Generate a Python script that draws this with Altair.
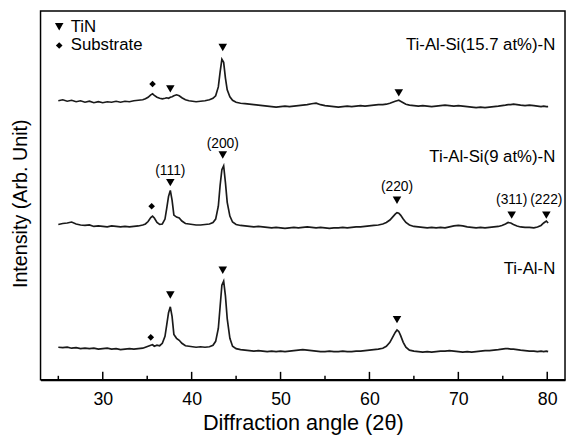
import altair as alt
import pandas as pd

# 2-theta grid (degrees)
x_deg = [25.0, 25.5, 26.0, 26.5, 27.0, 27.5, 28.0, 28.5, 29.0, 29.5, 30.0, 30.5, 31.0, 31.5, 32.0, 32.5, 33.0, 33.5, 34.0, 34.5,
         34.8, 35.1, 35.4, 35.6, 35.8, 36.1, 36.4, 36.7, 37.0, 37.2, 37.4, 37.6, 37.8, 38.0, 38.3, 38.6, 38.9, 39.3, 39.7,
         40.1, 40.5, 41.0, 41.5, 42.0, 42.4, 42.7, 43.0, 43.2, 43.4, 43.6, 43.8, 44.0, 44.3, 44.6, 45.0, 45.5,
         46.0, 46.5, 47.0, 47.5, 48.0, 48.5, 49.0, 49.5, 50.0, 50.5, 51.0, 51.5, 52.0, 52.5, 53.0, 53.5, 54.0, 54.5,
         55.0, 55.5, 56.0, 56.5, 57.0, 57.5, 58.0, 58.5, 59.0, 59.5, 60.0, 60.5, 61.0, 61.5,
         61.9, 62.3, 62.6, 62.9, 63.1, 63.3, 63.5, 63.8, 64.1, 64.5, 65.0,
         65.5, 66.0, 66.5, 67.0, 67.5, 68.0, 68.5, 69.0, 69.5, 70.0, 70.5, 71.0, 71.5, 72.0, 72.5, 73.0, 73.5, 74.0, 74.5,
         74.9, 75.3, 75.6, 75.9, 76.2, 76.6, 77.0, 77.5, 78.0, 78.5, 78.9, 79.3, 79.6, 79.9, 80.1]

# Intensity (arb. unit, already offset per pattern)
top_157 = [283, 284, 282.5, 283.5, 282, 283, 281.5, 282.5, 281, 282, 281, 282, 281.5, 282.5, 281.5, 282.5, 282, 283, 283.5, 284,
           285, 286.5, 289, 290, 288.5, 286.5, 285.5, 285, 285.5, 286, 285.5, 286.5, 287, 288, 289, 288, 286, 284, 283,
           282.5, 282, 282.5, 283, 284, 285.5, 288, 297, 312, 325, 322, 306, 294, 287, 283.5, 281.5, 280.5,
           280, 279.5, 279, 278.5, 278, 277.5, 277, 276.5, 277, 277.5, 277, 277.5, 278, 278.5, 279, 280, 280.5, 279,
           278, 277.5, 277, 276.5, 277, 277.5, 277, 277.5, 278, 277.5, 278, 278.5, 279, 279,
           279.5, 280.5, 281.5, 282.5, 283, 283.5, 282.5, 281, 279.5, 278.5, 278,
           277.5, 278, 277.5, 277, 277.5, 278, 278.5, 278, 277.5, 278, 277.5, 277, 276.5, 276, 276.5, 276, 276.5, 277, 277.5,
           278, 278.5, 279, 279, 279.5, 279, 278.5, 278, 278.5, 278, 277.5, 277, 277.5, 277, 277]

mid_9 = [157.5, 158.5, 159, 160, 158, 157, 156.5, 157, 155.5, 156, 155.5, 155, 156, 155.5, 155, 155.5, 155, 155.5, 156, 157,
         158, 160.5, 164.5, 166, 164, 159.5, 157.5, 158, 163, 174, 186, 192, 182, 167, 165, 164, 161, 158.5, 158,
         157.5, 157, 157, 157.5, 158, 159.5, 163, 176, 197, 213, 217, 200, 180, 166, 160, 157.5, 156.5,
         156, 155.5, 155, 155.5, 155, 154.5, 154, 154.5, 154, 153.5, 154, 154.5, 154, 154.5, 155, 154.5, 154, 154.5,
         154, 153.5, 154, 154, 154.5, 154, 154.5, 155, 155, 155.5, 156, 156.5, 157, 158,
         159.5, 162, 165, 168, 169.5, 169, 167, 163, 159.5, 157, 155.5,
         155, 154.5, 154, 154.5, 154, 154.5, 154, 155, 156, 156.5, 156, 155, 154.5, 154, 154.5, 154, 154.5, 155, 155.5,
         156.5, 158, 159.5, 159, 157.5, 156, 155, 154.5, 154.5, 154, 155, 156.5, 159, 161, 159]

bot_tialn = [33, 32.5, 33, 32, 32.5, 31.5, 32, 31.5, 32, 31, 31.5, 32, 31, 31.5, 30.5, 31, 31.5, 31, 31.5, 32,
             33, 34, 35, 35.5, 34, 35, 34.5, 37, 44, 56, 68, 74, 64, 46, 42, 40, 37, 34.5, 34,
             33.5, 33, 33.5, 33, 33.5, 35, 39, 52, 74, 96, 100, 85, 62, 42, 34, 31.5, 30.5,
             30, 29.5, 29, 29.5, 29, 28.5, 29, 28.5, 29, 28.5, 29, 29.5, 30, 30.5, 30, 29.5, 29, 28.5,
             28.5, 29, 28.5, 28.5, 29, 28.5, 28.5, 29, 29, 29.5, 30, 30.5, 31, 32,
             34, 38, 43, 48, 50.5, 49, 45, 38, 33, 30, 29,
             28.5, 28, 28.5, 28, 28.5, 29, 29, 29.5, 29, 28.5, 28, 28.5, 28, 28.5, 29, 29.5, 29.5, 30, 30.5,
             31, 31.5, 31.5, 31, 31, 30.5, 30, 29.5, 29, 29, 28.5, 29, 28.5, 29, 28.5]

series_names = ["Ti-Al-Si(15.7 at%)-N", "Ti-Al-Si(9 at%)-N", "Ti-Al-N"]
label_y = [339, 226, 112]
label_x = [80.9, 80.9, 80.9]

# TiN reflection markers
tin_x = [37.6, 43.5, 63.3, 37.6, 43.5, 63.1, 76.0, 79.9, 37.6, 43.5, 63.1]
tin_y = [295, 337, 291, 200, 228, 182, 167, 167, 86, 111, 61]
# substrate markers
sub_x = [35.6, 35.5, 35.4]
sub_y = [300, 176, 43]

hkl_text = ["(111)", "(200)", "(220)", "(311)", "(222)"]
hkl_x = [37.6, 43.5, 63.1, 76.0, 79.9]
hkl_y = [212, 239, 195, 182, 182]

legend_text = ["TiN", "Substrate"]
legend_mark_x = [25.1, 25.1]
legend_text_x = [26.4, 26.4]
legend_y = [358, 339]

major_ticks = [30, 40, 50, 60, 70, 80]
minor_ticks = [25, 35, 45, 55, 65, 75]

rows = []
for name, vals in zip(series_names, [top_157, mid_9, bot_tialn]):
    for xv, yv in zip(x_deg, vals):
        rows.append({"x": xv, "y": yv, "series": name})
df_lines = pd.DataFrame(rows)

df_tin = pd.DataFrame({"x": tin_x + [legend_mark_x[0]], "y": tin_y + [legend_y[0]]})
df_sub = pd.DataFrame({"x": sub_x + [legend_mark_x[1]], "y": sub_y + [legend_y[1]]})
df_hkl = pd.DataFrame({"x": hkl_x, "y": hkl_y, "t": hkl_text})
df_lab = pd.DataFrame({"x": label_x, "y": label_y, "t": series_names})
df_leg = pd.DataFrame({"x": legend_text_x, "y": legend_y, "t": legend_text})
df_major = pd.DataFrame({"x": major_ticks})
df_minor = pd.DataFrame({"x": minor_ticks})

FONT = "Liberation Sans"
xscale = alt.Scale(domain=[23, 82], nice=False, zero=False)
yscale = alt.Scale(domain=[0, 374], nice=False, zero=False)

xenc = alt.X("x:Q", scale=xscale,
             axis=alt.Axis(title="Diffraction angle (2θ)", values=major_ticks, ticks=False,
                           labelFontSize=18, labelFont=FONT, labelColor="black", labelPadding=11,
                           titleFontSize=22, titleFont=FONT, titleFontWeight="normal", titleColor="black",
                           titlePadding=4, domainColor="black", domainWidth=2, grid=False, format="d"))
yenc = alt.Y("y:Q", scale=yscale,
             axis=alt.Axis(title="Intensity (Arb. Unit)", labels=False, ticks=False, domain=False, grid=False,
                           titleFontSize=20, titleFont=FONT, titleFontWeight="normal", titleColor="black",
                           titlePadding=10, titleY=195))

lines = alt.Chart(df_lines).mark_line(color="#1a1a1a", strokeWidth=1.7).encode(
    x=xenc, y=yenc, detail="series:N")

tin = alt.Chart(df_tin).mark_point(shape="triangle-down", filled=True, color="black", size=75, opacity=1).encode(
    x="x:Q", y="y:Q")
sub = alt.Chart(df_sub).mark_point(shape="diamond", filled=True, color="black", size=45, opacity=1).encode(
    x="x:Q", y="y:Q")

hkl = alt.Chart(df_hkl).mark_text(font=FONT, fontSize=14, color="black", baseline="middle", align="center").encode(
    x="x:Q", y="y:Q", text="t:N")
labs = alt.Chart(df_lab).mark_text(font=FONT, fontSize=17, color="black", baseline="middle", align="right").encode(
    x="x:Q", y="y:Q", text="t:N")
leg = alt.Chart(df_leg).mark_text(font=FONT, fontSize=17, color="black", baseline="middle", align="left").encode(
    x="x:Q", y="y:Q", text="t:N")

major = alt.Chart(df_major).mark_rule(color="black", strokeWidth=1.5).encode(
    x="x:Q", y=alt.value(374), y2=alt.value(366))
minor = alt.Chart(df_minor).mark_rule(color="black", strokeWidth=1.5).encode(
    x="x:Q", y=alt.value(374), y2=alt.value(370))

chart = alt.layer(lines, major, minor, tin, sub, hkl, labs, leg).properties(
    width=532, height=374,
    autosize=alt.AutoSizeParams(type="none"),
    padding={"left": 33, "top": 0, "right": 1, "bottom": 55},
).configure_view(stroke="black", strokeWidth=1.5).configure_axis(grid=False)

chart.save("out.html", embed_options={"renderer": "svg", "actions": False})
